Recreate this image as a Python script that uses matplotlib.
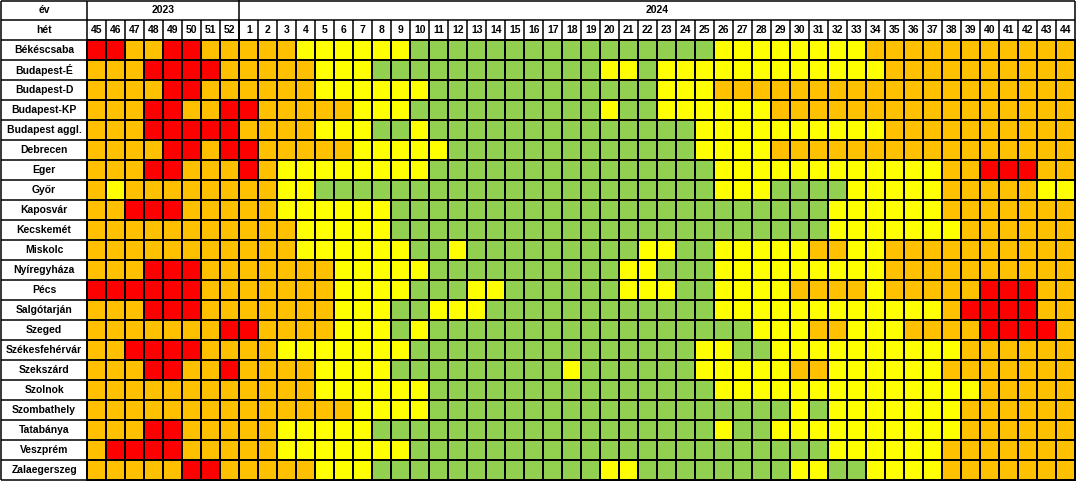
import numpy as np
import matplotlib

matplotlib.use("Agg")

import matplotlib.pyplot as plt
from matplotlib.colors import ListedColormap


REGIONS = [
    "Békéscsaba", "Budapest-É", "Budapest-D", "Budapest-KP", "Budapest aggl.",
    "Debrecen", "Eger", "Győr", "Kaposvár", "Kecskemét", "Miskolc",
    "Nyíregyháza", "Pécs", "Salgótarján", "Szeged", "Székesfehérvár",
    "Szekszárd", "Szolnok", "Szombathely", "Tatabánya", "Veszprém", "Zalaegerszeg",
]

YEARS = ["2023", "2024"]
WEEKS_2023 = [45, 46, 47, 48, 49, 50, 51, 52]
WEEKS_2024 = [1, 2, 3, 4, 5, 6, 7, 8, 9, 10, 11, 12, 13, 14, 15, 16, 17, 18, 19, 20, 21, 22,
              23, 24, 25, 26, 27, 28, 29, 30, 31, 32, 33, 34, 35, 36, 37, 38, 39, 40, 41, 42, 43, 44]

# G = green, Y = yellow, O = orange, R = red
# weeks 45-52 of 2023 | weeks 1-10, 11-20, 21-30, 31-40, 41-44 of 2024
STATUS = [
    "RROORROO OOOYYYYYYG GGGGGGGGGG GGGGGYYYYY YYYOOOOOOO OOOO",  # Békéscsaba
    "OOORRRRO OOOOYYYGGG GGGGGGGGGY YGYYYYYYYY YYYYOOOOOO OOOO",  # Budapest-É
    "OOOORROO OOOOYYYYYY GGGGGGGGGG GGYYYOOOOO OOOOOOOOOO OOOO",  # Budapest-D
    "OOORROOR ROOOOOYYYG GGGGGGGGGY GGYYYYYYOO OOOOOOOOOO OOOO",  # Budapest-KP
    "OOORRRRR OOOOYYYGGY GGGGGGGGGG GGGGYYYYYY YYYYOOOOOO OOOO",  # Budapest aggl.
    "OOOORROR ROOOOOYYYY YGGGGGGGGG GGGGYYYYOO OOOOOOOOOO OOOO",  # Debrecen
    "OOORROOO ROYYYYYYYY GGGGGGGGGG GGGGGYYYYY YYYYYYYOOR RROO",  # Eger
    "OYOOOOOO OOYYGGGGGG GGGGGGGGGG GGGGGYYYGG GGYYYYYOOO OOYY",  # Győr
    "OORRROOO OOYYYYYYGG GGGGGGGGGG GGGGGGGGGG GYYYYYYOOO OOOO",  # Kaposvár
    "OOOOOOOO OOOYYYYYGG GGGGGGGGGG GGGGGGGGGG GYYYYYYYOO OOOO",  # Kecskemét
    "OOOOOOOO OOOYYYYYYG GYGGGGGGGG GYYGGYYYYY OOYYOOOOOO OOOO",  # Miskolc
    "OOORRROO OOOOOYYYYY GGGGGGGGGG YYGGGYYYYY YYYYOOOOOO OOOO",  # Nyíregyháza
    "RRRRRROO OOOOOYYYYG GGYYGGGGGG YYYGGYYYYO OOOYOOOOOR RROO",  # Pécs
    "OOORRROO OOOOOYYYGG YYYGGGGGGG GGGGGYYYYY YYYYYYYORR RROO",  # Salgótarján
    "OOOOOOOR ROOOOYYYGY GGGGGGGGGG GGGGGGGYYY OOYYYOOOOR RRRO",  # Szeged
    "OORRRROO OOYYYYYYYG GGGGGGGGGG GGGGYYGGYY YYYYYYYYOO OOOO",  # Székesfehérvár
    "OOORROOR OOOOYYYYGG GGGGGGGYGG GGGGYYYYYO OYYYYYYOOO OOOO",  # Szekszárd
    "OOOOOOOO OOOOYYYYYY GGGGGGGGGG GGGGGYYYYY YYYYYYYYYO OOOO",  # Szolnok
    "OOOOOOOO OOOOOOYYYY GGGGGGGGGG GGGGGGGGGY GYYYYYYYOO OOOO",  # Szombathely
    "OOORROOO OOYYYYYGGG GGGGGGGGGG GGGGGYGGYY YYYYYYYYOO OOOO",  # Tatabánya
    "ORRRROOO OOYYYYYYYG GGGGGGGGGG GGGGGGGGGG GYYYYYYOOO OOOO",  # Veszprém
    "OOOOORRO OOOOYYYGGG GGGGGGGGGY YGGGGGGGGY YGGYYYYOOO OOOO",  # Zalaegerszeg
]

LEVELS = "GYOR"
COLORS = ["#92D050", "#FFFF00", "#FFC000", "#FF0000"]

FONT = dict(family="Liberation Sans", fontweight="bold", fontsize=7.5, color="black",
            ha="center", va="center")


def main() -> None:
    grid = np.array([[LEVELS.index(c) for c in row.replace(" ", "")] for row in STATUS])
    weeks = WEEKS_2023 + WEEKS_2024
    n_rows, n_cols = grid.shape

    fig = plt.figure(figsize=(10.77, 4.82), dpi=100)
    ax = fig.add_axes([0, 0, 1, 1])

    # pixel layout: label column 87 px, cells 19 px wide, rows 20 px tall
    col_w, row_h, x_off, y_off = 19.0, 20.0, 87.3, 40.3
    ax.set_xlim(-x_off / col_w, (1077 - x_off) / col_w)
    ax.set_ylim((482 - y_off) / row_h, -y_off / row_h)
    ax.axis("off")

    cmap = ListedColormap(COLORS)
    ax.pcolormesh(np.arange(n_cols + 1), np.arange(n_rows + 1), grid, cmap=cmap,
                  vmin=-0.5, vmax=3.5, edgecolors="black", linewidth=1.1)

    left = (1.0 - x_off) / col_w
    lw = 1.1
    # row lines through the label column and header
    ax.hlines(np.arange(n_rows + 1), left, 0, color="black", linewidth=lw)
    ax.hlines([-2 + 1.0 / row_h, -1], left, n_cols, color="black", linewidth=lw)
    ax.vlines([left, 0, n_cols], -2 + 1.0 / row_h, n_rows, color="black", linewidth=lw)
    ax.vlines([len(WEEKS_2023)], -2, 0, color="black", linewidth=lw)
    ax.vlines(np.arange(1, n_cols), -1, 0, color="black", linewidth=lw)

    label_x = left / 2
    ax.text(label_x, -1.5, "év", **FONT)
    ax.text(label_x, -0.5, "hét", **FONT)
    ax.text(len(WEEKS_2023) / 2, -1.5, YEARS[0], **FONT)
    ax.text((len(WEEKS_2023) + n_cols) / 2, -1.5, YEARS[1], **FONT)
    for j, week in enumerate(weeks):
        ax.text(j + 0.5, -0.5, str(week), **FONT)
    for i, name in enumerate(REGIONS):
        ax.text(label_x, i + 0.5, name, **FONT)

    fig.savefig("out.png", dpi=100)
    plt.close(fig)


if __name__ == "__main__":
    main()
